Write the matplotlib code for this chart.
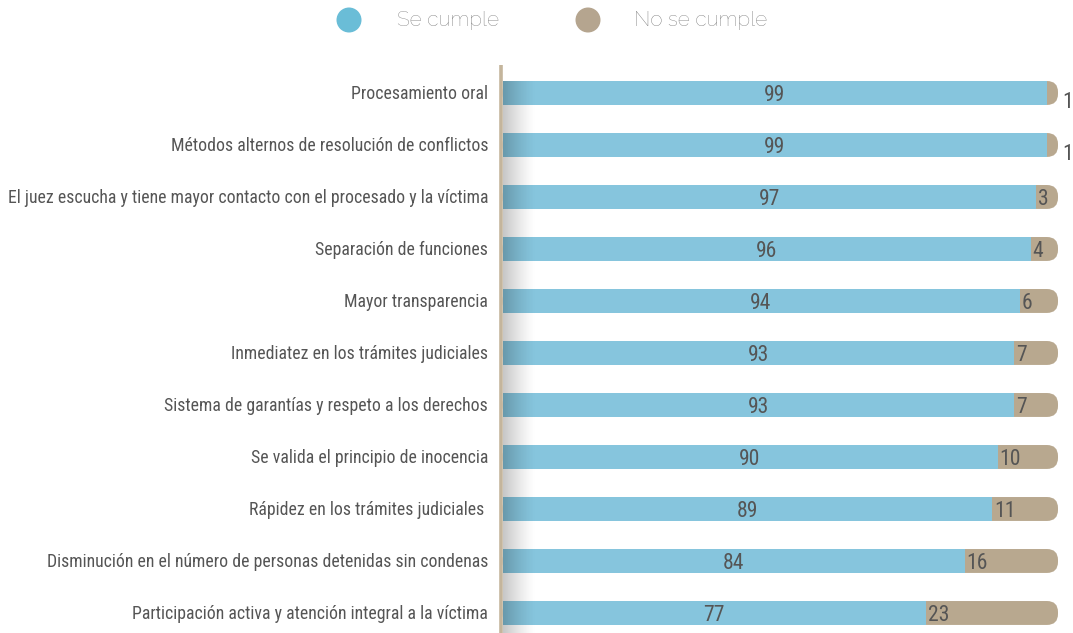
import matplotlib
matplotlib.use("Agg")
import matplotlib.pyplot as plt
import numpy as np
from matplotlib.patches import FancyBboxPatch, Circle
from matplotlib import font_manager

categories = [
    "Procesamiento oral",
    "Métodos alternos de resolución de conflictos",
    "El juez escucha y tiene mayor contacto con el procesado y la víctima",
    "Separación de funciones",
    "Mayor transparencia",
    "Inmediatez en los trámites judiciales",
    "Sistema de garantías y respeto a los derechos",
    "Se valida el principio de inocencia",
    "Rápidez en los trámites judiciales ",
    "Disminución en el número de personas detenidas sin condenas",
    "Participación activa y atención integral a la víctima",
]
se_cumple = [99, 99, 97, 96, 94, 93, 93, 90, 89, 84, 77]
no_se_cumple = [1, 1, 3, 4, 6, 7, 7, 10, 11, 16, 23]
legend_labels = ["Se cumple", "No se cumple"]

BLUE = "#86c5dd"
TAN = "#b8a88f"
LEG_BLUE = "#6abdd7"
LEG_TAN = "#b5a58f"
TXT = "#555555"

fl = font_manager.fontManager.ttflist
names = {f.name for f in fl}
def pick(cands):
    for c in cands:
        if c in names:
            return c
    return "DejaVu Sans"
cond = pick(["Roboto Condensed", "Barlow Semi Condensed", "Barlow Condensed", "Archivo Narrow"])
leg_font = pick(["Raleway", "Lato", "DejaVu Sans"])
leg_weights = sorted({f.weight for f in fl if f.name == leg_font and isinstance(f.weight, int)})
leg_w = 400 if 400 in leg_weights else (leg_weights[-1] if leg_weights else "normal")

W, H = 1073, 633
fig = plt.figure(figsize=(W / 100, H / 100), dpi=100)
ax_left_px, ax_right_px = 502.5, 1052.5
ax_top_px, ax_bot_px = 65, 633
ax = fig.add_axes([ax_left_px / W, 1 - ax_bot_px / H,
                   (ax_right_px - ax_left_px) / W, (ax_bot_px - ax_top_px) / H])
n = len(categories)
y = np.arange(n)
ylim = (n - 1 + 0.385, -0.538)
ax.axis("off")

bar_h = 0.46
px_x = 100 / (ax_right_px - ax_left_px)
px_y = (ylim[0] - ylim[1]) / (ax_bot_px - ax_top_px)
cap = 1.0
r = 2.0
for i in range(n):
    tot = se_cumple[i] + no_se_cumple[i]
    ax.add_patch(FancyBboxPatch((0, y[i] - bar_h / 2), tot + cap, bar_h,
                                boxstyle=f"round,pad=0,rounding_size={r}",
                                mutation_aspect=px_y / px_x,
                                facecolor=TAN, edgecolor="none", zorder=2, clip_on=False))
ax.barh(y, se_cumple, height=bar_h, color=BLUE, zorder=3)

grad = np.zeros((2, 256, 4))
grad[..., 3] = np.linspace(0.32, 0.0, 256) ** 1.3
ax.imshow(grad, extent=(0, 6, ylim[0], -bar_h / 2), aspect="auto",
          zorder=4, interpolation="bilinear")
ax.set_xlim(0, 100)
ax.set_ylim(*ylim)

ax.plot([-0.35, -0.35], [ylim[0], ylim[1]], color="#c4b59c", lw=2.6,
        zorder=5, clip_on=False, solid_capstyle="butt")

renderer = fig.canvas.get_renderer()
t = fig.text(0, 0, categories[2], fontsize=10, family=cond)
w10 = t.get_window_extent(renderer).width
t.remove()
cat_fs = 10 * 476 / w10
num_fs = cat_fs * 1.22

for i in range(n):
    ax.text(se_cumple[i] / 2, y[i] + 0.05, str(se_cumple[i]), ha="center", va="center",
            fontsize=num_fs, color=TXT, family=cond, zorder=6)
    if no_se_cumple[i] <= 1:
        ax.text(se_cumple[i] + no_se_cumple[i] + cap + 0.7, y[i] + 0.18, str(no_se_cumple[i]),
                ha="left", va="center", fontsize=num_fs, color=TXT, family=cond,
                zorder=6, clip_on=False)
    else:
        ax.text(se_cumple[i] + 0.4, y[i] + 0.05, str(no_se_cumple[i]), ha="left", va="center",
                fontsize=num_fs, color=TXT, family=cond, zorder=6, clip_on=False)
    ax.text(-2.6, y[i] + 0.02, categories[i], ha="right", va="center", fontsize=cat_fs,
            color=TXT, family=cond, clip_on=False)

lax = fig.add_axes([0, 0, 1, 1], zorder=10)
lax.set_xlim(0, W)
lax.set_ylim(H, 0)
lax.axis("off")
lax.patch.set_alpha(0)
lax.add_patch(Circle((349, 20), 12.5, facecolor=LEG_BLUE, edgecolor="none"))
lax.add_patch(Circle((588, 20), 12.5, facecolor=LEG_TAN, edgecolor="none"))
lax.text(397, 21, legend_labels[0], ha="left", va="center",
         fontsize=15, color="#727272", family=leg_font, fontweight=leg_w)
lax.text(634, 21, legend_labels[1], ha="left", va="center",
         fontsize=15, color="#727272", family=leg_font, fontweight=leg_w)

fig.savefig("out.png", dpi=100)
